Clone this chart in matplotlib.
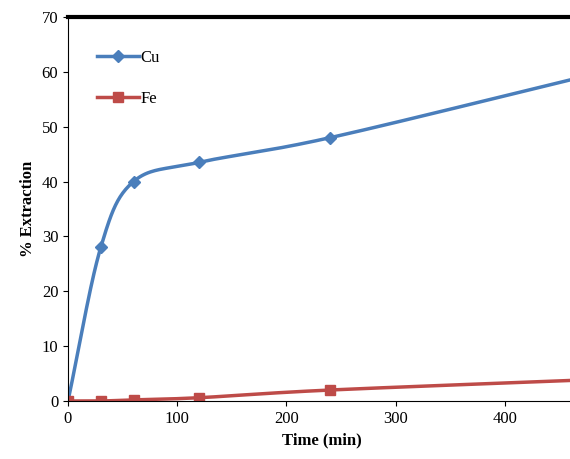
import numpy as np
import matplotlib.pyplot as plt
from matplotlib.lines import Line2D

time_min = [0, 30, 60, 120, 240, 480]
cu_ext = [0, 28, 40, 43.5, 48, 59.5]
fe_ext = [0, 0, 0.2, 0.6, 2.0, 3.9]


def smooth(xs, ys, n=40):
    # Catmull-Rom style smoothing like the spreadsheet curves
    x = np.array(xs, float)
    y = np.array(ys, float)
    px = np.concatenate([[2 * x[0] - x[1]], x, [2 * x[-1] - x[-2]]])
    py = np.concatenate([[2 * y[0] - y[1]], y, [2 * y[-1] - y[-2]]])
    outx, outy = [], []
    t = np.linspace(0, 1, n)
    for i in range(1, len(px) - 2):
        p0, p1, p2, p3 = (np.array([px[j], py[j]]) for j in range(i - 1, i + 3))
        m1 = (p2 - p0) / 2
        m2 = (p3 - p1) / 2
        h00 = 2 * t**3 - 3 * t**2 + 1
        h10 = t**3 - 2 * t**2 + t
        h01 = -2 * t**3 + 3 * t**2
        h11 = t**3 - t**2
        pts = np.outer(h00, p1) + np.outer(h10, m1) + np.outer(h01, p2) + np.outer(h11, m2)
        outx.extend(pts[:, 0])
        outy.extend(pts[:, 1])
    return outx, outy


plt.rcParams['font.family'] = ['Liberation Serif', 'DejaVu Serif']

fig = plt.figure(figsize=(5.7, 4.59), dpi=100)
ax = fig.add_axes([68 / 570, 1 - 401 / 459, 1 - 68 / 570 + 0.01, 384 / 459])

cu_col = '#4a7ebb'
fe_col = '#be4b48'

sx, sy = smooth(time_min, cu_ext)
ax.plot(sx, sy, color=cu_col, lw=2.5)
ax.plot(time_min, cu_ext, 'D', color=cu_col, ms=6, ls='none')
sx, sy = smooth(time_min, fe_ext)
ax.plot(sx, sy, color=fe_col, lw=2.5)
ax.plot(time_min, fe_ext, 's', color=fe_col, ms=7, ls='none')

ax.set_xlim(0, 465)
ax.set_ylim(0, 70)
ax.set_xticks([0, 100, 200, 300, 400])
ax.set_yticks(range(0, 71, 10))
ax.tick_params(labelsize=12, direction='out')
ax.spines['top'].set_linewidth(3)
ax.spines['right'].set_visible(False)
ax.set_xlabel('Time (min)', fontsize=12, fontweight='bold')
ax.set_ylabel('% Extraction', fontsize=12, fontweight='bold')

handles = [Line2D([], [], color=cu_col, lw=2.5, marker='D', ms=6),
           Line2D([], [], color=fe_col, lw=2.5, marker='s', ms=7)]
ax.legend(handles, ['Cu', 'Fe'], loc='upper left', bbox_to_anchor=(0.035, 0.945),
          frameon=False, fontsize=12, handlelength=2.5, handletextpad=0.1,
          labelspacing=1.5, borderpad=0.2)

fig.savefig('out.png', dpi=100)
